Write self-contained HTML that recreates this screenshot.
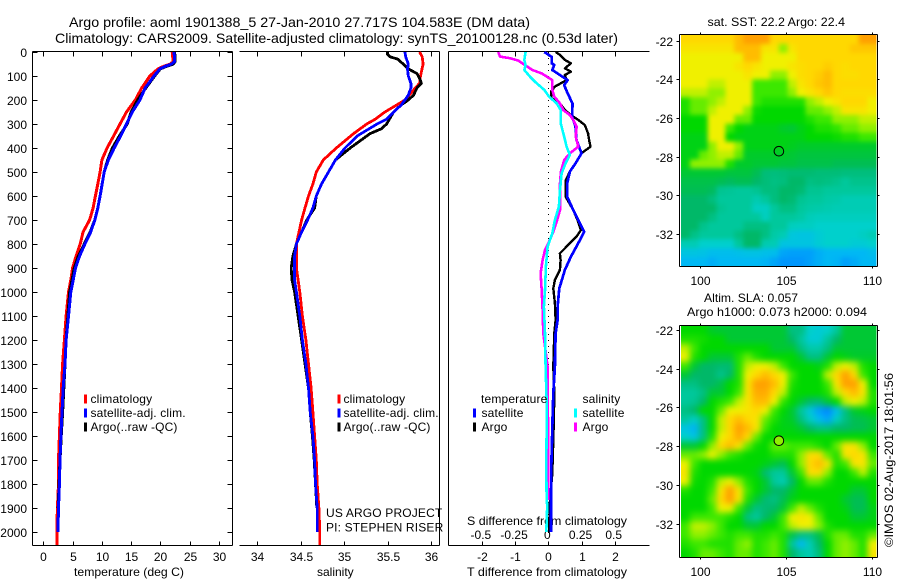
<!DOCTYPE html>
<html lang="en">
<head>
<meta charset="utf-8">
<title>Argo profile</title>
<style>
html,body{margin:0;padding:0;background:#fff;}
svg{display:block;}
text{font-family:"Liberation Sans",sans-serif;font-size:12px;fill:#000;}
.wide{letter-spacing:0.16px;}
</style>
</head>
<body>
<svg id="fig" xmlns="http://www.w3.org/2000/svg" width="900" height="580" viewBox="0 0 900 580">
<rect x="0" y="0" width="900" height="580" fill="#fff"/>
<text x="69" y="27" style="font-size:14px" textLength="461" lengthAdjust="spacingAndGlyphs">Argo profile: aoml 1901388_5 27-Jan-2010 27.717S 104.583E (DM data)</text>
<text x="55" y="43" style="font-size:14px" textLength="563" lengthAdjust="spacingAndGlyphs">Climatology: CARS2009. Satellite-adjusted climatology: synTS_20100128.nc (0.53d later)</text>
<text x="74" y="576" textLength="110" lengthAdjust="spacingAndGlyphs">temperature (deg C)</text>
<text x="317" y="576">salinity</text>
<text x="467" y="576" textLength="160" lengthAdjust="spacingAndGlyphs">T difference from climatology</text>
<text x="467" y="525" textLength="160" lengthAdjust="spacingAndGlyphs">S difference from climatology</text>
<text class="wide" x="326" y="517">US ARGO PROJECT</text>
<text class="wide" x="326" y="531.5">PI: STEPHEN RISER</text>
<text x="707.5" y="26" textLength="137.5" lengthAdjust="spacingAndGlyphs">sat. SST: 22.2 Argo: 22.4</text>
<text x="704" y="302" textLength="94" lengthAdjust="spacingAndGlyphs">Altim. SLA: 0.057</text>
<text x="687" y="316" textLength="180" lengthAdjust="spacingAndGlyphs">Argo h1000: 0.073 h2000: 0.094</text>
<text transform="translate(893,547) rotate(-90)" textLength="174" lengthAdjust="spacingAndGlyphs">©IMOS 02-Aug-2017 18:01:56</text>
<g id="plots"></g>
</svg>
<script>
// ---------- depth axis ----------
const depthTicks = [0,100,200,300,400,500,600,700,800,900,1000,1100,1200,1300,1400,1500,1600,1700,1800,1900,2000];

// ---------- temperature panel ----------
const tempTicks = [0,5,10,15,20,25,30];
const tempClimDepth = [0,20,40,50,60,70,100,150,200,250,300,350,400,450,500,550,600,650,700,750,800,850,900,950,1000,1100,1200,1300,1400,1500,1600,1700,1800,1900,2000,2054];
const tempClim = [22.0,22.1,22.2,21.7,20.5,19.6,18.2,16.8,15.7,14.2,13.1,12,10.9,10,9.7,9.3,8.9,8.5,7.9,6.8,6.3,5.6,5,4.7,4.3,3.9,3.6,3.3,3.1,2.9,2.75,2.6,2.6,2.4,2.3,2.35];
const tempArgoDepth = [0,20,40,50,60,70,100,150,200,250,300,350,400,450,500,600,650,700,750,800,850,900,950,1000,1100,1200,1300,1400,1500,1600,1700,1800,1900];
const tempArgo = [22.4,22.5,22.5,22.2,21,20,19,17.5,16.1,15,14.3,13,11.8,11,10.4,9.7,9.3,8.8,8,7,6,5.3,4.9,4.5,4.2,3.9,3.7,3.5,3.3,3.05,2.85,2.7,2.55];
const tempSatDepth = [0,20,40,50,60,70,100,150,200,250,300,350,400,450,500,600,650,700,750,800,850,900,950,1000,1100,1200,1300,1400,1500,1600,1700,1800,1900,2000];
const tempSat = [22.3,22.4,22.4,21.9,20.8,19.9,18.9,17.4,16.5,15.2,14.2,13.2,12.1,11.1,10.4,9.7,9.3,8.8,8.1,7.1,6.2,5.5,5.1,4.7,4.3,3.9,3.7,3.4,3.2,3.0,2.85,2.75,2.6,2.5];

// ---------- salinity panel ----------
const salTicks = [34,34.5,35,35.5,36];
const salClimDepth = [0,20,50,100,130,150,180,200,220,250,280,300,340,400,450,500,550,600,650,700,750,800,850,900,950,1000,1100,1200,1300,1400,1500,1600,1700,1800,1900,2000,2054];
const salClim = [35.87,35.90,35.91,35.88,35.87,35.82,35.75,35.70,35.61,35.47,35.36,35.26,35.11,34.91,34.76,34.68,34.64,34.59,34.55,34.51,34.48,34.45,34.45,34.45,34.47,34.49,34.52,34.56,34.59,34.62,34.64,34.66,34.68,34.69,34.71,34.72,34.72];
const salArgoDepth = [0,10,20,30,50,70,90,110,130,150,180,200,220,250,300,320,340,400,450,500,550,600,650,700,750,800,850,900,950,1000,1100,1200,1300,1400,1500,1600,1700,1800,1900];
const salArgo = [35.50,35.50,35.53,35.62,35.68,35.74,35.84,35.87,35.89,35.84,35.80,35.74,35.66,35.57,35.49,35.43,35.30,35.07,34.90,34.82,34.74,34.68,34.66,34.57,34.51,34.45,34.41,34.39,34.40,34.43,34.47,34.51,34.55,34.59,34.61,34.635,34.655,34.67,34.685];
const salSatDepth = [0,20,50,70,100,130,150,180,200,220,250,280,300,350,400,450,500,550,600,650,700,750,800,850,900,950,1000,1100,1200,1300,1400,1500,1600,1700,1800,1900,2000];
const salSat = [35.70,35.71,35.74,35.73,35.74,35.77,35.77,35.74,35.70,35.66,35.57,35.49,35.38,35.15,35.01,34.90,34.82,34.74,34.68,34.64,34.58,34.51,34.45,34.43,34.43,34.43,34.45,34.49,34.52,34.56,34.59,34.61,34.64,34.66,34.67,34.69,34.69];

// ---------- difference panel ----------
const diffTTicks = [-2,-1,0,1,2];
const diffSTicks = [-0.5,-0.25,0,0.25,0.5];
const diffTSatDepth = [0,20,47,54,75,96,117,138,172,214,269,311,367,422,464,498,547,603,658,700,749,797,853,908,985,1047,1117,1172,1311,1422,1519,1617,1728,1867,2000];
const diffTSat = [-0.12,0.10,0.10,0.18,0.12,0.35,0.58,0.48,0.58,0.73,0.72,0.82,0.85,1.0,0.82,0.65,0.57,0.57,0.75,0.9,1.08,0.9,0.68,0.5,0.33,0.29,0.28,0.22,0.2,0.15,0.13,0.11,0.09,0.08,0.08];
const diffTArgoDepth = [0,12,33,47,68,82,96,117,144,165,193,214,242,264,283,304,339,367,394,422,464,498,533,603,658,700,742,769,811,839,867,908,950,985,1047,1117,1172,1311,1422,1519,1617,1756,1867,2000];
const diffTArgo = [0.22,0.35,0.5,0.68,0.5,0.68,0.5,0.55,0.2,0.08,0.1,0.35,0.5,0.7,0.9,1.1,1.2,1.23,1.27,1.0,0.82,0.65,0.53,0.52,0.75,0.88,0.98,0.85,0.55,0.35,0.37,0.35,0.2,0.15,0.2,0.22,0.18,0.15,0.18,0.17,0.15,0.12,0.05,0.02];
const diffSSatDepth = [0,33,54,75,103,124,158,186,214,242,297,353,394,429,464,506,575,644,700,756,811,894,992,1061,1172,1311,1450,1589,1728,1852,1894,2000];
const diffSSat = [-0.171,-0.181,-0.171,-0.181,-0.138,-0.1,-0.03,0.005,0.063,0.093,0.093,0.12,0.138,0.163,0.13,0.1,0.088,0.08,0.05,0.03,-0.005,-0.018,-0.025,-0.033,-0.025,-0.02,-0.0125,-0.0125,-0.015,-0.0125,-0.008,-0.015];
const diffSArgoDepth = [0,19,26,36,54,75,89,117,158,186,214,242,263,283,311,353,394,422,450,498,547,603,658,707,749,797,825,867,922,992,1075,1172,1311,1450,1589,1867];
const diffSArgo = [-0.377,-0.364,-0.289,-0.226,-0.176,-0.12,-0.05,0.03,0.03,0.045,0.088,0.113,0.163,0.188,0.213,0.206,0.226,0.163,0.12,0.095,0.088,0.088,0.088,0.063,0.038,0,-0.025,-0.043,-0.058,-0.05,-0.043,-0.038,-0.005,-0.005,0,0];

// ---------- maps (colour level per grid cell, rows north to south) ----------
const mapLonTicks = [100,105,110];
const mapLatTicks = [-22,-24,-26,-28,-30,-32];
const profileLon = 104.583;
const profileLat = -27.717;
const sstLevels = [
[9,9,9,9,9,9,9.5,10,10,10,9,9,9,9,9,9,9,9,9,9,10,10],
[8.5,8.5,8.5,8.5,8.5,8.5,9.5,9.5,9.5,8.5,8.5,7,8.5,9,9,9,9,9,9,9.3,9.3,9.3],
[8,8,8,8,8,8,8,9.5,9.5,8,8,8,8,9,9,9,9,9,9,9,9,9],
[8,8,8,8,8,8,8.5,9,8.5,8,8,8,8.5,8.8,9,9,9.2,9,8.8,9,9,9],
[8,8,8,8,8,8,8,8.5,8,8,7,7,8,8.8,9,9.2,9.5,9,8.8,8.8,9,9],
[8,8,8,7.5,7.5,8,8,8,6,6,6,6,7.5,8.5,9,9.3,9.5,9,9,9,9,9],
[7.5,7.5,7.5,7,7,8,8,8,6,6,6,6,7,8,8.5,9,9.3,9,8.8,8.8,8.8,8.8],
[5.5,6.5,6.5,7,7.5,8,8,8,6,5.5,5.5,5.5,5.5,5.5,7,7.5,8,8.5,9,9,9,8],
[5.5,6.5,6.5,7.5,8,8,8,7,5.2,5,5,5,5,5,6.5,6.5,7,7.5,8.5,8.5,8.5,8],
[5,5,5,8,8,8,6.5,6.5,5,5,5,5,5,5,5.5,6,6,7,7,7,7.5,7.5],
[5,5,5,8,8,6,5,4.8,4.8,4.8,4.8,4.6,4.5,4.8,5,5.5,5.5,5.8,6.5,6.5,7,7],
[4.8,4.8,4.8,8,8,5,4.8,4.8,4.8,4.8,4.8,4.8,4.8,4.8,5,5,5,5.2,5.5,5.5,6,6],
[4.8,4.8,4.8,7,8,8,7,4.8,4.8,4.8,4.8,4.8,4.7,4.6,4.6,4.6,4.6,4.6,4.6,4.6,4.6,4.6],
[4.8,4.8,6.5,7,7.5,7.5,6.5,4.6,4.6,4.6,4.6,4.6,4.5,4.4,4.4,4.4,4.4,4.4,4.4,4.4,4.4,4.4],
[4.8,7,7,7,7,5.5,4.6,4.6,4.5,4.5,4.5,4.4,4.4,4.3,4.3,4.3,4.3,4.2,4.2,4.2,4.2,4.2],
[4.5,4.5,4.5,4.5,4.5,4.4,4.4,4.4,4.2,3.7,3.6,3.7,3.8,3.8,3.8,3.7,3.7,3.7,3.6,3.6,3.6,3.6],
[4.3,4.3,4.3,4.3,4.2,4.1,4.2,4.2,4,3.7,3.5,3.6,4,4,3.5,3.6,3.5,3.3,3,3.3,3.3,3.3],
[4.2,4.2,4.2,4.1,3.2,3.1,3,3,3.2,3.6,3.6,4,4,3.8,3.2,3.2,3,3,3,3,3,3],
[4,4,4,3.6,3,3,3,3,2.6,3,3.6,4,3.8,3.2,3,3,2.8,2.7,2.5,2.5,2.5,2.5],
[4,4,4,4,3.2,3,3,3,2.2,2.2,3,3.5,3.5,3,2.8,2.7,2.6,2.5,2.5,2.5,2.5,2.5],
[4,4,4,3.5,3,3,3,3,3,2.3,3,3,3,2.8,2.4,2.3,2.3,2.3,2.3,2.3,2.3,2.3],
[4,4,3.3,3,3,3,3,3.5,3.5,3.5,3,3,2.3,2.2,2.2,2,2,2,2,2,2,2],
[4,3.4,3,3,3,3,3.5,4,4,3.5,2.8,2.5,1.6,1.5,1.5,1.8,2,2,2,2,2.2,2.5],
[2.5,2.5,2,2,2,2,3,4,4,2.6,2.5,1.5,1.5,1.5,1.5,1.8,2,2,2,1.8,1.8,2],
[1.5,1.5,1.4,1.2,1.2,1.2,1.3,1.4,1.4,1.3,1.2,0.6,0.5,0.5,0.5,0.8,1,1,1,1,1,1.2],
[1,1,1,0.8,1,1,1,1,1,0.9,0.6,0.3,0.3,0.3,0.5,0.8,1,0.9,0.5,0.7,1,1]
];
const slaLevels = [
[5,5,5,4.6,4.5,4.5,4.5,4.5,4.5,4.5,4.5,4.5,3.5,3.5,2,1.8,2,3,4.5,4.5,4.5,4.5],
[5.5,5.5,5.3,5,5,4.5,4.5,4.5,4.5,4.5,4.5,4.5,4,3,1.8,1.8,3,4,4.5,4.5,4.5,4.5],
[7.5,6,5,5,5,5,5,5,5,5,4.5,4.5,4.5,3.5,2.7,2.7,3.5,4.5,4.5,4.5,4.5,4.5],
[8,5.5,5,4.5,4.5,4.5,5.5,6.5,5.5,5,5,5,5,4.5,3.5,3.5,4.5,5,4.8,4.6,4.6,4.6],
[6,4.5,4,4,3.8,3.8,5.5,7.5,8,8,7.5,6,5,5,5,4.8,5.5,7.5,8,7.5,5.5,5],
[4.5,4,4,4,3.3,4,5.5,8,9,9.5,9,8,6,5,5,5,7.5,9,10,9,6,5],
[3.5,3.5,4,4,4.3,5,5.5,8.5,10,10,9.5,8,5.5,5,5,5,6,8.5,10,10,8,5],
[3,3,3.5,4.5,4.5,5,6,8.5,9.8,9.8,9,7.5,5.2,5,5,5,5.5,7.5,9,9.5,8.5,5.5],
[3,3.2,4,5,5.5,6,7.5,8.5,9.5,9.5,8,5.8,5,4.5,4,3.8,4.5,5,7.5,8,7.5,5.5],
[3.5,4,5,5,6.5,8,8,8.5,9,8,6,5,4.5,3,1.6,0.5,0,1.2,3.5,4.6,4.8,5],
[3,2.2,3.5,5,7.5,9,9.5,9,8.5,6.5,5.5,4.8,4.6,3.5,2.2,1.2,0.6,2.2,3.5,4.2,4.3,4.5],
[1.5,0.9,3.5,5,7.5,9,10,9.5,8.5,6,5,4.8,4.8,4.5,4,3.5,3.5,4,4,4.2,4.2,4.5],
[2,1.5,3.5,5.5,8,9,9.8,9,6.5,5,5,5,5,5,5,5,5,5,5,5,5,5],
[4.5,4.5,5,7,9,9.5,8.5,6.5,5.2,5,6.5,6.5,6,6,6,5.5,5,6.5,8.5,8.5,7,5],
[6.5,6.5,7,8,7,6,5.5,5,5,5,5.5,5.5,5.5,7,8.8,8.8,6.5,5.5,8.5,9,8.5,6],
[8,6,5,5,5,5,5,5,5,4.8,4.5,4.2,5,7,9,9.5,8.5,5.5,6,8.5,8.5,6.5],
[8.5,5.5,5,5,5,5,5,5,4.8,3.8,3,3,4.5,6,8.8,8.8,7,5,5,6,7.5,5.5],
[8,5.2,5,5.5,7.5,8,7,5.5,5,4.5,3,2.5,4,5,6.5,6.5,5.5,5,5,5,5,5],
[5.5,5,5,6,8.5,10,8.5,6,5,4.5,4,4,4.5,5,5,5,5,5,5,4.5,4.5,5],
[5,5,5,6.5,9,10,8.5,5.5,4.5,3.8,3.5,4.2,4.8,5,5,5,5,5,4.5,4.2,4.2,5],
[5,5,5,6,8,8,6,4.5,3.5,3.8,4,4.5,6,7.5,6.5,5.5,5,5,4.8,4.2,4.2,4.8],
[5,6,6,6,6,5.5,5,3.5,3,4,4.5,6,8,8.5,8,6.5,5,5,5,4.5,4.5,4.8],
[6,7.5,7.5,7,6,5,5,4.5,4.5,5,5,6,7.5,8,8,7,5.5,5,5,5,5,5],
[6,7,7,6.5,6,5.5,6,6,5.5,5.5,6,5.5,4.3,3.5,3.5,4.3,5.5,6.5,6.5,5.5,5.5,6.5],
[5.5,6,6,5.5,5.5,5.5,6.5,7,5.5,6,6.5,5.5,3,1,2.5,4,5,6.5,7,6.5,5.5,8],
[5,5.5,6.5,6.5,6,5.5,6.5,6.5,5.5,6,6.5,5.5,4,3,2.5,3.6,5,6.5,7,6.5,5.5,8.5]
];
const colorStops = ['#0088ff','#00b8f4','#00d0cc','#00c89c','#00b868','#00d800','#3ce800','#90f000','#f0f000','#ffd800','#ffa000'];
const slaProfileLevel = 7;

const NS = 'http://www.w3.org/2000/svg';
const plots = document.getElementById('plots');

// axis functions
const depthToY = d => 52 + d * 0.24;
const tempToX = v => 43.3 + v * 5.857;
const salToX = v => 257.3 + (v - 34) * 86.8;
const diffTToX = v => 548.3 + v * 33.2;
const diffSToX = v => 548.3 + v * 132.8;
const lonToX = v => 700.3 + (v - 100) * 17.14;
const sstLatToY = v => 40.7 + (-22 - v) * 19.33;
const slaLatToY = v => 330 + (-22 - v) * 19.37;

function svgEl(tag, parent) {
  const el = document.createElementNS(NS, tag);
  (parent || plots).appendChild(el);
  return el;
}
function rule(x1, y1, x2, y2, name) {
  const el = svgEl('line');
  el.setAttribute('x1', x1); el.setAttribute('y1', y1);
  el.setAttribute('x2', x2); el.setAttribute('y2', y2);
  el.setAttribute('stroke', '#000');
  el.setAttribute('stroke-width', 1);
  el.setAttribute('shape-rendering', 'crispEdges');
  
  
  return el;
}
function label(x, y, str, anchor, name) {
  const el = svgEl('text');
  el.setAttribute('x', x); el.setAttribute('y', y);
  el.setAttribute('text-anchor', anchor);
  el.textContent = str;
  
  
  return el;
}
function curve(xs, depths, toX, color, width, name) {
  const el = svgEl('polyline');
  el.setAttribute('points', xs.map((v, i) => toX(v).toFixed(1) + ',' + depthToY(depths[i]).toFixed(1)).join(' '));
  el.setAttribute('fill', 'none');
  el.setAttribute('stroke', color);
  el.setAttribute('stroke-width', width);
  el.setAttribute('stroke-linejoin', 'round');
  el.setAttribute('shape-rendering', 'crispEdges');
  
  
}
function swatch(x, y, color, name) {
  const el = svgEl('rect');
  el.setAttribute('x', x); el.setAttribute('y', y - 4.5);
  el.setAttribute('width', 3); el.setAttribute('height', 9);
  el.setAttribute('fill', color);
  
  
}

// panel frames
const T = 51.5, B = 545.5;
rule(32.5, T, 232.5, T, 'temp-panel-top-axis');
rule(32.5, B, 232.5, B, 'temp-panel-bottom-axis');
rule(32.5, T, 32.5, B, 'depth-axis');
rule(232.5, T, 232.5, B, 'temp-panel-right-axis');
rule(239.5, T, 439.5, T, 'sal-panel-top-axis');
rule(239.5, B, 439.5, B, 'sal-panel-bottom-axis');
rule(439.5, T, 439.5, B, 'sal-panel-right-axis');
rule(448.5, T, 649.5, T, 'diff-panel-top-axis');
rule(448.5, B, 649.5, B, 'diff-panel-bottom-axis');
rule(448.5, T, 448.5, B, 'diff-panel-left-axis');

depthTicks.forEach(d => {
  const y = Math.round(depthToY(d)) + 0.5;
  rule(32.5, y, 37.5, y, 'depth-tick');
  rule(227.5, y, 232.5, y, 'depth-tick-right');
  label(27, y + 4.5, String(d), 'end', 'depth-tick-label');
});
function xTicks(values, toX, prefix, fmt, labelY) {
  values.forEach(v => {
    const x = Math.round(toX(v)) + 0.5;
    rule(x, T, x, T + 5, prefix + '-tick-top');
    rule(x, B - 4, x, B, prefix + '-tick-bottom');
    label(x, labelY, fmt(v), 'middle', prefix + '-tick-label');
  });
}
xTicks(tempTicks, tempToX, 'temperature', String, 561);
xTicks(salTicks, salToX, 'salinity', String, 561);
xTicks(diffTTicks, diffTToX, 't-difference', String, 561);
diffSTicks.forEach(v => {
  label(diffSToX(v) - 1, 539, String(v), 'middle', 's-difference-tick-label');
});

// temperature series
curve(tempClim, tempClimDepth, tempToX, '#f00', 3, 'temperature-climatology-line');
curve(tempArgo, tempArgoDepth, tempToX, '#000', 3, 'temperature-argo-line');
curve(tempSat, tempSatDepth, tempToX, '#00f', 3, 'temperature-satellite-line');
// salinity series
curve(salClim, salClimDepth, salToX, '#f00', 2.8, 'salinity-climatology-line');
curve(salArgo, salArgoDepth, salToX, '#000', 2.8, 'salinity-argo-line');
curve(salSat, salSatDepth, salToX, '#00f', 2.8, 'salinity-satellite-line');
// zero reference
const zeroLine = rule(548.5, 52, 548.5, 533, 'zero-difference-line');
zeroLine.setAttribute('stroke-dasharray', '1 5');
// difference series
curve(diffTArgo, diffTArgoDepth, diffTToX, '#000', 2.4, 't-difference-argo-line');
curve(diffTSat, diffTSatDepth, diffTToX, '#00f', 2.7, 't-difference-satellite-line');
curve(diffSArgo, diffSArgoDepth, diffSToX, '#f0f', 2.6, 's-difference-argo-line');
curve(diffSSat, diffSSatDepth, diffSToX, '#0ff', 2.6, 's-difference-satellite-line');

// legends
[[84, 90.5, 'temp'], [337.5, 343.5, 'sal']].forEach(([sx, tx, id]) => {
  swatch(sx, 399, '#f00', id + '-legend-climatology-swatch');
  label(tx, 403, 'climatology', 'start', id + '-legend-climatology').setAttribute('class', 'wide');
  swatch(sx, 413, '#00f', id + '-legend-satellite-swatch');
  label(tx, 417, 'satellite-adj. clim.', 'start', id + '-legend-satellite').setAttribute('class', 'wide');
  swatch(sx, 427, '#000', id + '-legend-argo-swatch');
  label(tx, 431, 'Argo(..raw -QC)', 'start', id + '-legend-argo').setAttribute('class', 'wide');
});
label(481, 403, 'temperature', 'start', 'diff-legend-temperature-heading').setAttribute('class', 'wide');
swatch(473, 413, '#00f', 'diff-legend-t-satellite-swatch');
label(481.5, 417, 'satellite', 'start', 'diff-legend-t-satellite').setAttribute('class', 'wide');
swatch(473, 427, '#000', 'diff-legend-t-argo-swatch');
label(481.5, 431, 'Argo', 'start', 'diff-legend-t-argo').setAttribute('class', 'wide');
label(582.5, 403, 'salinity', 'start', 'diff-legend-salinity-heading').setAttribute('class', 'wide');
swatch(574, 413, '#0ff', 'diff-legend-s-satellite-swatch');
label(582.5, 417, 'satellite', 'start', 'diff-legend-s-satellite').setAttribute('class', 'wide');
swatch(574, 427, '#f0f', 'diff-legend-s-argo-swatch');
label(582.5, 431, 'Argo', 'start', 'diff-legend-s-argo').setAttribute('class', 'wide');

// colour map
function hexToRgb(h) { return [1, 3, 5].map(i => parseInt(h.substr(i, 2), 16)); }
function levelColor(v) {
  const c = Math.max(0, Math.min(colorStops.length - 1, v));
  const i = Math.min(colorStops.length - 2, Math.floor(c));
  const f = c - i, a = hexToRgb(colorStops[i]), b = hexToRgb(colorStops[i + 1]);
  return 'rgb(' + a.map((p, k) => Math.round(p + (b[k] - p) * f)).join(',') + ')';
}

// maps
function drawMap(levels, latToY, top, bottom, id, markerFill, blurPx) {
  const left = 681, right = 876.5;
  const clipId = id + '-clip';
  const cp = svgEl('clipPath');
  cp.setAttribute('id', clipId);
  const cr = svgEl('rect', cp);
  cr.setAttribute('x', left); cr.setAttribute('y', top);
  cr.setAttribute('width', right - left); cr.setAttribute('height', bottom - top);
  const clipG = svgEl('g');
  clipG.setAttribute('clip-path', 'url(#' + clipId + ')');
  const g = svgEl('g', clipG);
  g.setAttribute('style', 'filter:blur(' + blurPx + 'px)');
  
  
  const nr = levels.length, nc = levels[0].length;
  const cw = (right - left) / nc, ch = (bottom - top) / nr;
  levels.forEach((row, r) => {
    row.forEach((v, c) => {
      const el = svgEl('rect', g);
      const x0 = c === 0 ? left - 14 : left + c * cw;
      const x1 = c === nc - 1 ? right + 14 : left + (c + 1) * cw + 0.5;
      const y0 = r === 0 ? top - 14 : top + r * ch;
      const y1 = r === nr - 1 ? bottom + 14 : top + (r + 1) * ch + 0.5;
      el.setAttribute('x', x0.toFixed(1)); el.setAttribute('y', y0.toFixed(1));
      el.setAttribute('width', (x1 - x0).toFixed(1)); el.setAttribute('height', (y1 - y0).toFixed(1));
      el.setAttribute('fill', levelColor(v));
      
      
    });
  });
  const L = 679.5, R = 877.5, TT = top - 0.5, BB = bottom + 0.5;
  rule(L, TT, R, TT, id + '-top-axis');
  rule(L, BB, R, BB, id + '-bottom-axis');
  rule(L, TT, L, BB, id + '-left-axis');
  rule(R, TT, R, BB, id + '-right-axis');
  mapLatTicks.forEach(lat => {
    const y = Math.round(latToY(lat)) + 0.5;
    rule(L - 3, y, L, y, id + '-lat-tick');
    rule(R, y, R + 2, y, id + '-lat-tick-right');
    label(673, y + 4.5, String(lat), 'end', id + '-lat-label');
  });
  mapLonTicks.forEach(lon => {
    const x = Math.round(lonToX(lon)) + 0.5;
    rule(x, TT - 2, x, TT, id + '-lon-tick-top');
    rule(x, BB, x, BB + 2, id + '-lon-tick');
    label(x, bottom + 19, String(lon), 'middle', id + '-lon-label');
  });
  const m = svgEl('circle');
  m.setAttribute('cx', lonToX(profileLon).toFixed(1));
  m.setAttribute('cy', latToY(profileLat).toFixed(1));
  m.setAttribute('r', 4.8);
  m.setAttribute('fill', markerFill);
  m.setAttribute('stroke', '#000');
  m.setAttribute('stroke-width', 1);
  
  
}
drawMap(sstLevels, sstLatToY, 35, 266, 'sst-map', 'none', 2.4);
drawMap(slaLevels, slaLatToY, 326, 557, 'sla-map', levelColor(slaProfileLevel), 3.2);
</script>
</body>
</html>
